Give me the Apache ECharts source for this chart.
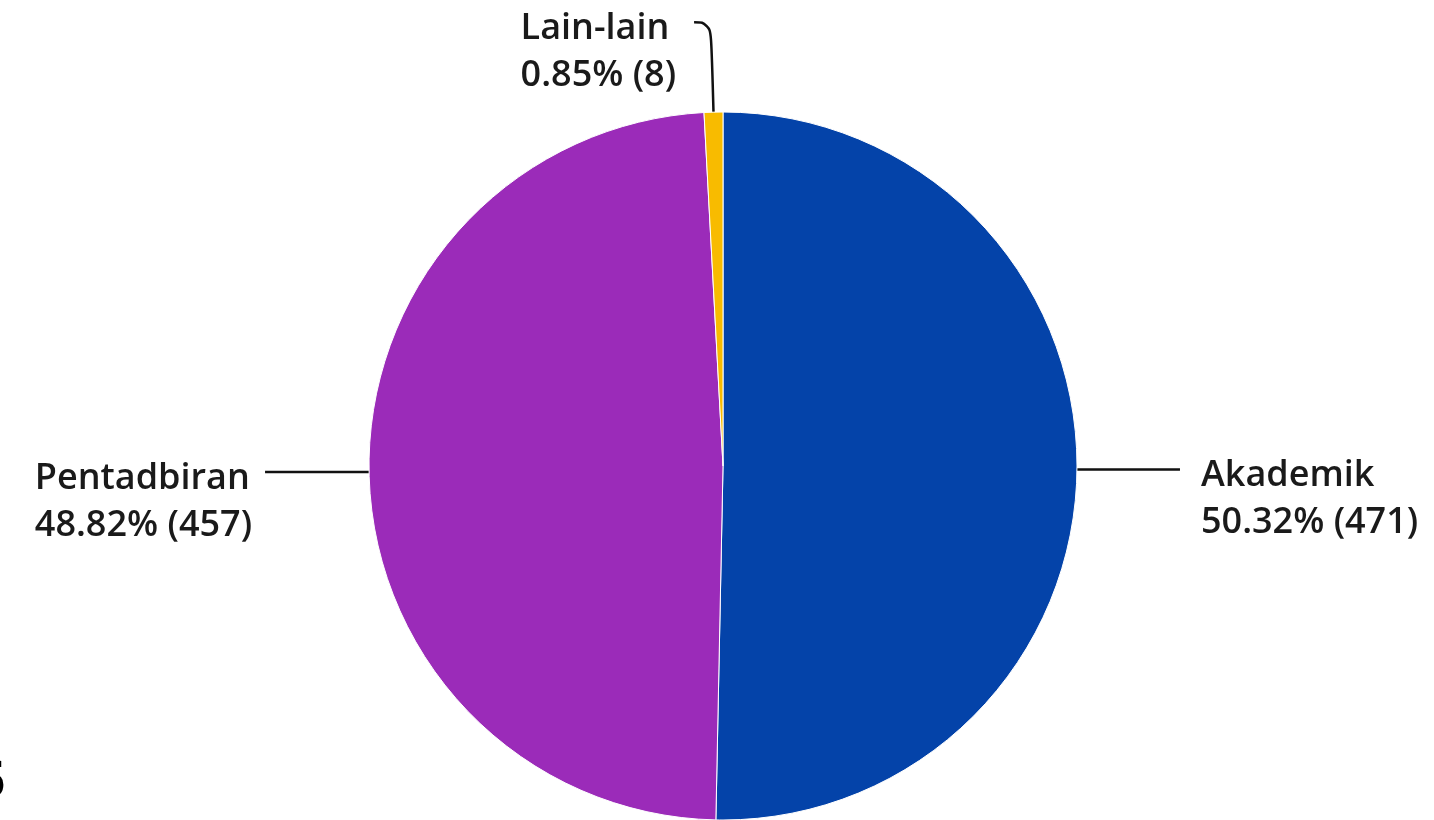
<!DOCTYPE html>
<html>
<head>
<meta charset="utf-8">
<script src="https://cdn.jsdelivr.net/npm/echarts@6/dist/echarts.min.js"></script>
<style>
  html, body { margin: 0; padding: 0; background: #ffffff; }
  #chart { width: 1434px; height: 820px; }
</style>
</head>
<body>
<div id="chart"></div>
<script>
// ---- data ----
const categories = ['Akademik', 'Pentadbiran', 'Lain-lain'];
const counts = [471, 457, 8];
const colors = ['#0443A9', '#9B2BB9', '#F8BB00'];

// per-slice label line lengths (style)
const lineLen1 = [1, 1, 90];
const lineLen2 = [102, 103, 17];
const labelGap = [21, 13, 18];

const total = counts.reduce((s, v) => s + v, 0);

const chart = echarts.init(document.getElementById('chart'), null, { renderer: 'canvas' });

const data = categories.map((name, i) => ({
  name: name,
  value: counts[i],
  itemStyle: { color: colors[i] },
  label: { distanceToLabelLine: labelGap[i] },
  labelLine: { length: lineLen1[i], length2: lineLen2[i], smooth: i === 2 ? 0.5 : false }
}));

chart.setOption({
  backgroundColor: '#ffffff',
  animation: false,
  graphic: [{
    type: 'text',
    left: -22,
    top: 755,
    style: { text: '6', font: '54px "Liberation Serif"', fill: '#000' }
  }],
  series: [{
    type: 'pie',
    center: [723, 466],
    radius: 354,
    startAngle: 90,
    clockwise: true,
    avoidLabelOverlap: false,
    itemStyle: { borderColor: '#ffffff', borderWidth: 1 },
    label: {
      show: true,
      position: 'outside',
      alignTo: 'none',
      bleedMargin: 0,
      padding: [60, 0, 0, 0],
      formatter: function (p) {
        const pct = (p.value / total * 100).toFixed(2);
        return '{a|' + p.name + '}\n{a|' + pct + '% (' + p.value + ')}';
      },
      rich: {
        a: {
          align: 'left',
          fontFamily: '"Open Sans", sans-serif',
          fontWeight: 600,
          fontSize: 36,
          lineHeight: 47,
          color: '#1a1a1a'
        }
      }
    },
    labelLine: {
      show: true,
      lineStyle: { color: '#111111', width: 2.5 }
    },
    emphasis: { disabled: true },
    data: data
  }]
});
</script>
</body>
</html>
